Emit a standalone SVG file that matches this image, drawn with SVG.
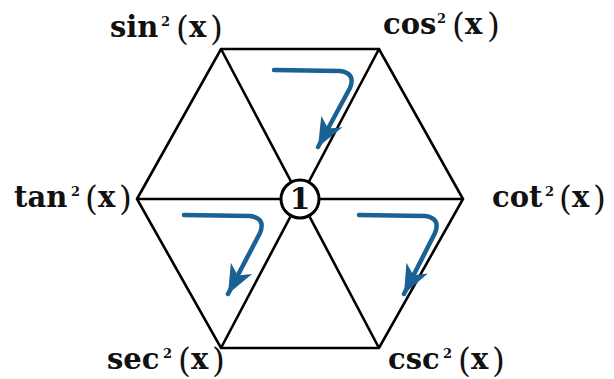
<svg xmlns="http://www.w3.org/2000/svg" width="614" height="379" viewBox="0 0 614 379">
  <style>
    .edge { stroke: #000; stroke-width: 2.6; fill: none; stroke-linejoin: miter; }
    .arr { stroke: #1a6194; stroke-width: 4.5; fill: none; stroke-linecap: round; stroke-linejoin: round; }
    .fn { font-family: "DejaVu Serif", "Liberation Serif", serif; font-weight: bold; font-size: 29px; fill: #111; }
    .sup { font-family: "DejaVu Serif", "Liberation Serif", serif; font-weight: bold; font-size: 13px; fill: #111; }
    .par { font-family: "DejaVu Serif", "Liberation Serif", serif; font-weight: normal; font-size: 33px; fill: #111; }
    .one { font-family: "DejaVu Serif", "Liberation Serif", serif; font-weight: bold; font-size: 30px; fill: #111; text-anchor: middle; }
  </style>
  <defs>
    <marker id="head" markerUnits="userSpaceOnUse" markerWidth="34" markerHeight="34" refX="29" refY="12" orient="auto" viewBox="0 0 34 24">
      <path d="M29,12 L0,0 L8,12 L0,24 Z" fill="#1a6194"/>
    </marker>
  </defs>
  <rect width="614" height="379" fill="#fff"/>
  <g id="connectors">
    <polygon class="edge" points="137,199 221,49 379,49 463,199 379,348 221,348"/>
    <line class="edge" x1="221" y1="49" x2="379" y2="348"/>
    <line class="edge" x1="379" y1="49" x2="221" y2="348"/>
    <line class="edge" x1="137" y1="199" x2="463" y2="199"/>
    <path class="arr" d="M274,70 L340,71 Q356,73 350,88 L318,147" marker-end="url(#head)"/>
    <path class="arr" d="M184,215 L250,216 Q266,218 260,233 L228,294" marker-end="url(#head)"/>
    <path class="arr" d="M359,215 L425,216 Q441,218 435,233 L404,294" marker-end="url(#head)"/>
  </g>
  <g id="center">
    <circle cx="300" cy="199" r="19" fill="#fff" stroke="#000" stroke-width="3"/>
    <text class="one" x="300" y="209">1</text>
  </g>
  <g id="sin">
    <text class="fn" x="110" y="37">sin</text>
    <text class="sup" x="161" y="26">2</text>
    <text class="par" x="176" y="40">(</text>
    <text class="fn" x="189" y="37">x</text>
    <text class="par" x="210" y="40">)</text>
  </g>
  <g id="cos">
    <text class="fn" x="383" y="34">cos</text>
    <text class="sup" x="437" y="23">2</text>
    <text class="par" x="452" y="37">(</text>
    <text class="fn" x="465" y="34">x</text>
    <text class="par" x="487" y="37">)</text>
  </g>
  <g id="tan">
    <text class="fn" x="14" y="207">tan</text>
    <text class="sup" x="71" y="196">2</text>
    <text class="par" x="85" y="210">(</text>
    <text class="fn" x="98" y="207">x</text>
    <text class="par" x="119" y="210">)</text>
  </g>
  <g id="cot">
    <text class="fn" x="492" y="207">cot</text>
    <text class="sup" x="545" y="196">2</text>
    <text class="par" x="559" y="210">(</text>
    <text class="fn" x="572" y="207">x</text>
    <text class="par" x="593" y="210">)</text>
  </g>
  <g id="sec">
    <text class="fn" x="107" y="369">sec</text>
    <text class="sup" x="163" y="358">2</text>
    <text class="par" x="178" y="372">(</text>
    <text class="fn" x="191" y="369">x</text>
    <text class="par" x="212" y="372">)</text>
  </g>
  <g id="csc">
    <text class="fn" x="388" y="369">csc</text>
    <text class="sup" x="443" y="358">2</text>
    <text class="par" x="458" y="372">(</text>
    <text class="fn" x="471" y="369">x</text>
    <text class="par" x="492" y="372">)</text>
  </g>
</svg>
